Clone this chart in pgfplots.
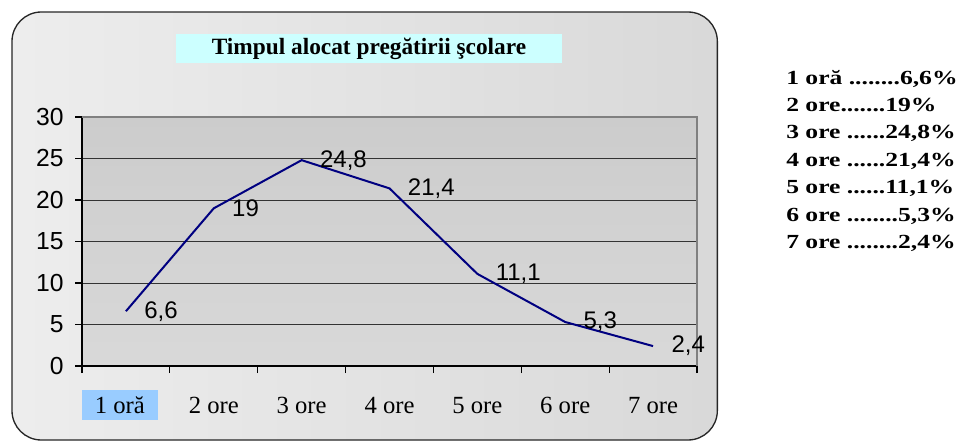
\documentclass[border=0pt]{standalone}
\usepackage{pgfplots}
\pgfplotsset{compat=1.18}
\usepackage{fontspec}
\setmainfont{Liberation Serif}
\newfontfamily\arial{Liberation Sans}
\definecolor{navyline}{RGB}{0,0,128}
\definecolor{titlebg}{RGB}{204,255,255}
\definecolor{hl}{RGB}{153,204,255}
\begin{document}
\begin{tikzpicture}
\path[use as bounding box] (0,0) rectangle (718.5pt,-332.25pt);
% chart frame
\shade[left color=white!93!black, right color=white!85!black, rounded corners=22pt]
  (9pt,-9pt) rectangle (538pt,-330pt);
\draw[black!85, line width=1pt, rounded corners=22pt]
  (9pt,-9pt) rectangle (538pt,-330pt);
% title
\fill[titlebg] (132pt,-25.5pt) rectangle (421.5pt,-47.25pt);
\node[font=\fontsize{17.5}{20}\selectfont\bfseries] at (276.75pt,-36.6pt) {Timpul alocat pregătirii şcolare};
\begin{axis}[
  at={(61.5pt,-274.5pt)}, anchor=south west,
  scale only axis, width=461.25pt, height=186.75pt,
  xmin=0.5, xmax=7.5, ymin=0, ymax=30,
  axis x line*=bottom, axis y line*=left,
  axis line style={black, line width=0.8pt},
  axis background/.style={top color=white!80!black, bottom color=white!85!black},
  ytick={0,5,...,30},
  ymajorgrids, grid style={black!80, line width=0.7pt},
  xtick={1,...,7},
  xticklabels={{\hspace*{-9pt}\setlength{\fboxsep}{0pt}\colorbox{hl}{\makebox[57pt]{\rule[-4.5pt]{0pt}{22.5pt}1 oră}}},2 ore,3 ore,4 ore,5 ore,6 ore,7 ore},
  major x tick style={draw=none},
  minor xtick={0.5,1.5,...,7.5},
  minor x tick style={black, line width=0.8pt},
  minor tick length=5.25pt,
  major tick length=5.25pt,
  tick align=outside,
  y tick style={black, line width=0.8pt},
  xticklabel style={font=\fontsize{18.5}{20}\selectfont, anchor=base, yshift=-30.5pt},
  yticklabel style={font=\arial\fontsize{18.5}{20}\selectfont, xshift=-5pt},
  /pgf/number format/assume math mode=true,
  clip=false,
  nodes near coords={\pgfmathprintnumber[use comma,fixed]{\pgfplotspointmeta}},
  nodes near coords style={anchor=west, xshift=9.75pt, font=\arial\fontsize{18}{20}\selectfont, text=black},
]
\draw[black!50, line width=1.5pt] (rel axis cs:0,1) -- (rel axis cs:1,1) -- (rel axis cs:1,0);
\addplot[navyline, line width=1.5pt, mark=none] coordinates {
(1,6.6) (2,19) (3,24.8) (4,21.4) (5,11.1) (6,5.3) (7,2.4)};
\end{axis}
\node[anchor=north west, inner sep=0pt] at (589.5pt,-48.4pt)
  {\scalebox{1.28}[1]{\fontsize{15}{20.6}\selectfont\bfseries\begin{tabular}{@{}l@{}}1 oră ........6,6\%\\2 ore.......19\%\\3 ore ......24,8\%\\4 ore ......21,4\%\\5 ore ......11,1\%\\6 ore ........5,3\%\\7 ore ........2,4\%\end{tabular}}};
\end{tikzpicture}
\end{document}
